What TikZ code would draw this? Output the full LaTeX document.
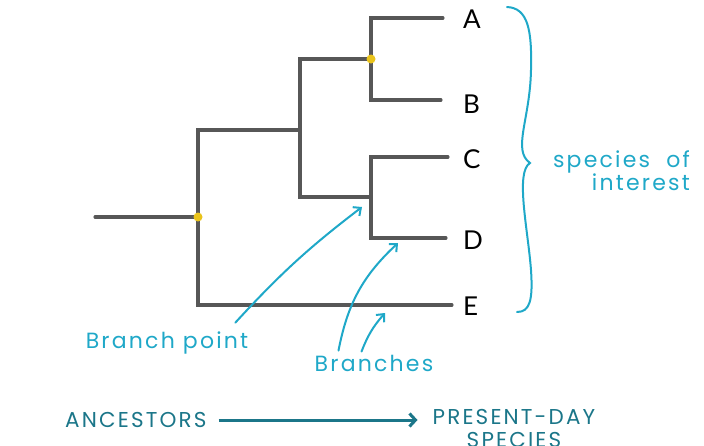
\documentclass[tikz,border=0pt]{standalone}
\usepackage{fontspec}
\setmainfont{Lato}
\newfontfamily\notefont[LetterSpace=10]{Poppins}
\usetikzlibrary{positioning,arrows.meta}
\definecolor{treegray}{HTML}{575757}
\definecolor{notecyan}{HTML}{1FA8C8}
\definecolor{axisteal}{HTML}{1B7689}
\definecolor{dotyellow}{HTML}{E9C31B}

\tikzset{
  branch/.style={treegray, line width=3.1pt, line cap=round},
  leaf/.style={anchor=west, inner sep=0pt, font=\fontsize{26}{30}\selectfont},
  note/.style={text=notecyan, inner sep=0pt, font=\notefont\fontsize{22}{23}\selectfont},
  callout/.style={notecyan, line width=2pt, line cap=round, -{Straight Barb[length=6pt,width=11pt]}},
  timeline/.style={text=axisteal, inner sep=0pt, font=\notefont\fontsize{21.5}{23}\selectfont}
}

\begin{document}
\begin{tikzpicture}[x=1pt, y=-1pt]
  \useasboundingbox (0,0) rectangle (704,445);

  % inner nodes of the tree
  \coordinate (root) at (95,217);
  \coordinate (n1) at (198,217);
  \coordinate (n2) at (300,130);
  \coordinate (n3) at (371,59);
  \coordinate (n4) at (371,197);

  % leaves
  \foreach \name/\y/\xend/\ly in {A/18/443/19, B/100/441/104, C/157/448/159, D/238/446/240, E/305/452/306}
  {
    \coordinate (tip\name) at (\xend,\y);
    \node[leaf] (\name) at (463,\ly) {\name};
  }

  \draw[branch] (root) -- (n1);
  \draw[branch] (tipE) -| (n1) |- (n2);
  \draw[branch] (n3) -| (n2) |- (n4);
  \draw[branch] (tipA) -| (n3) |- (tipB);
  \draw[branch] (tipC) -| (n4) |- (tipD);

  \foreach \n in {n1, n3}
    \fill[dotyellow] (\n) circle (4.5pt);

  % brace round the leaves
  \draw[notecyan, line width=2pt, line cap=round]
    (507,7) .. controls (528,8) and (532,30) .. (531,70)
    .. controls (530,120) and (512,150) .. (530,163)
    .. controls (515,172) and (528,230) .. (531,270)
    .. controls (533,300) and (530,312) .. (517,312);
  \node[note, anchor=east, align=right] (interest) at (690,171) {species\ \ of\\interest};

  % callouts
  \node[note] (bp) at (167,343) {Branch point};
  \node[note] (br) at (374,363) {Branches};
  \coordinate (bpend) at (362,207);
  \coordinate (brendD) at (398,243);
  \coordinate (brendE) at (385,313);
  \draw[callout] ([shift={(-13,-9)}]bp.north east) to[bend left=5] (bpend);
  \draw[callout] ([shift={(24,-4)}]br.north west) to[bend left=18] (brendD);
  \draw[callout] ([shift={(47,-3)}]br.north west) to[bend left=10] (brendE);

  % time axis
  \node[timeline, anchor=west] (anc) at (65,420) {ANCESTORS};
  \node[timeline, anchor=north, align=center] (present) at (514,409) {PRESENT-DAY\\SPECIES};
  \draw[axisteal, line width=3pt, -{Straight Barb[length=6pt,width=13pt]}, shorten <=12pt, shorten >=15pt]
    (anc.east) -- (anc.east -| present.west);
\end{tikzpicture}
\end{document}
